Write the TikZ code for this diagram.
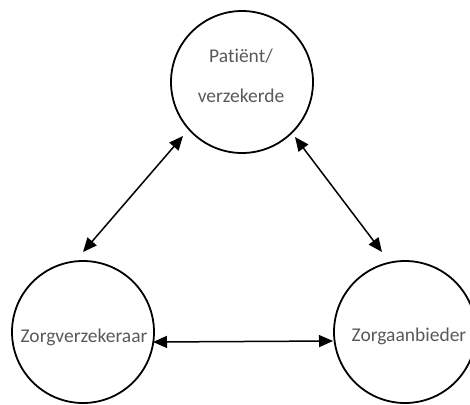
\documentclass[tikz,border=0pt]{standalone}
\usepackage{fontspec}
\setmainfont[Ligatures={NoCommon}]{Carlito}
\usetikzlibrary{arrows.meta}
\definecolor{txtgray}{HTML}{595959}
\begin{document}
\begin{tikzpicture}[x=1pt,y=-1pt,
  party/.style={draw=black,line width=1.8pt,circle,minimum size=142pt,inner sep=0pt},
  lbl/.style={text=txtgray,font=\fontsize{19.5pt}{23pt}\selectfont,inner sep=0pt,anchor=base},
  link/.style={line width=1.5pt,{Triangle[length=14pt,width=12pt]}-{Triangle[length=14pt,width=12pt]}}]
\useasboundingbox (0,0) rectangle (470,404);
\node[party] (pat) at (242,82) {};
\node[party] (zv) at (83,332) {};
\node[party] (za) at (405,332) {};
\node[lbl] (t1) at (241,63) {Patiënt/};
\node[lbl] (t2) at (241,102) {verzekerde};
\node[lbl] (t3) at (84,342) {Zorgverzekeraar};
\node[lbl] (t4) at (409,341) {Zorgaanbieder};
\coordinate (a1) at (183,136);
\coordinate (a2) at (83,252);
\coordinate (b1) at (295,137);
\coordinate (b2) at (382,252);
\coordinate (c1) at (153,342);
\coordinate (c2) at (333,341);
\draw[link] (a1) -- (a2);
\draw[link] (b1) -- (b2);
\draw[link] (c1) -- (c2);
\end{tikzpicture}
\end{document}
